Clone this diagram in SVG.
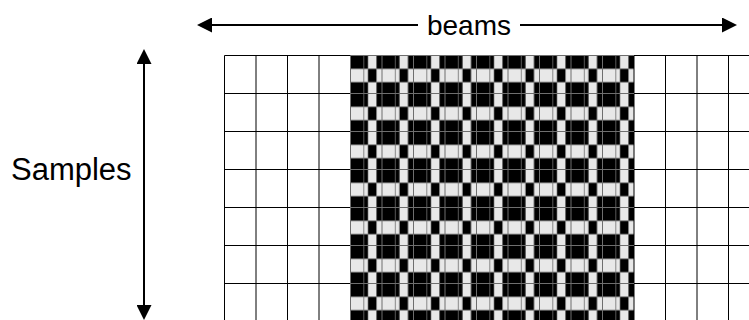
<svg xmlns="http://www.w3.org/2000/svg" width="749" height="320" viewBox="0 0 749 320">
<style>
.lbl{font-family:"Liberation Sans",Arial,sans-serif;fill:#000}
.arr{stroke:#000;stroke-width:2;fill:none}
.gl{stroke:#000;stroke-width:1;fill:none}
.gg{stroke:#6e6e6e;stroke-width:1;fill:none}
</style>
<defs>
<marker id="ah" viewBox="0 0 15 15" refX="1" refY="7.5" markerWidth="15" markerHeight="15" markerUnits="userSpaceOnUse" orient="auto-start-reverse">
<path d="M0,0 L15,7.5 L0,15 Z" fill="#000"/>
</marker>
<pattern id="chk" patternUnits="userSpaceOnUse" x="350.5" y="55.5" width="31.5" height="38">
<rect width="31.5" height="38" fill="#e8e8e8"/>
<rect x="0" y="0" width="17.5" height="13.3" fill="#000"/>
<rect x="26" y="0" width="5.5" height="13.3" fill="#000"/>
<rect x="17.5" y="13.3" width="8.5" height="13.4" fill="#000"/>
<rect x="0" y="26.7" width="17.5" height="11.3" fill="#000"/>
<rect x="26" y="26.7" width="5.5" height="11.3" fill="#000"/>
<rect x="13" y="0" width="0.8" height="38" fill="#6e6e6e"/>
</pattern>
</defs>
<g id="labels">
<text class="lbl" x="469" y="35" font-size="28" text-anchor="middle">beams</text>
<text class="lbl" x="11" y="180" font-size="31">Samples</text>
</g>
<g id="connectors">
<line class="arr" x1="211" y1="25" x2="418" y2="25" marker-start="url(#ah)"/>
<line class="arr" x1="520" y1="25" x2="723" y2="25" marker-end="url(#ah)"/>
<line class="arr" x1="144" y1="63" x2="144" y2="306" marker-start="url(#ah)" marker-end="url(#ah)"/>
</g>
<g id="grid">
<rect x="350.5" y="55.5" width="283.5" height="270" fill="url(#chk)"/>
<g class="gl">
<path d="M224.5,55.5H760M224.5,93.5H760M224.5,131.5H760M224.5,169.5H760M224.5,207.5H760M224.5,245.5H760M224.5,283.5H760"/>
<path d="M224.5,55.5V330M256,55.5V330M287.5,55.5V330M319,55.5V330M634,55.5V330M665.5,55.5V330M697,55.5V330M728.5,55.5V330"/>
</g>
<g class="gg">
<path d="M350.5,55.5H634M350.5,93.5H634M350.5,131.5H634M350.5,169.5H634M350.5,207.5H634M350.5,245.5H634M350.5,283.5H634"/>
<path d="M350.5,55.5V330M382,55.5V330M413.5,55.5V330M445,55.5V330M476.5,55.5V330M508,55.5V330M539.5,55.5V330M571,55.5V330M602.5,55.5V330"/>
</g>
</g>
</svg>
